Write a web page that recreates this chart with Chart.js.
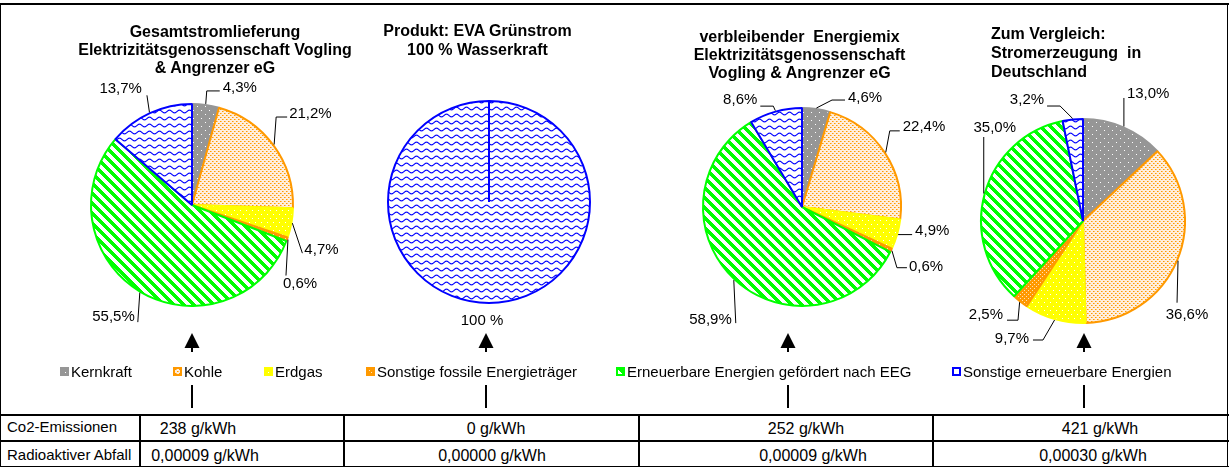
<!DOCTYPE html>
<html>
<head>
<meta charset="utf-8">
<script src="https://cdn.jsdelivr.net/npm/chart.js@4.4.1/dist/chart.umd.min.js"></script>
<style>
  html, body { margin: 0; padding: 0; background: #fff; }
  #page { position: relative; width: 1229px; height: 467px; overflow: hidden;
          font-family: "Liberation Sans", Arial, sans-serif; color: #000; }
  .abs { position: absolute; white-space: pre; }
  .title { font-weight: bold; font-size: 16px; }
  .leg { font-size: 15px; line-height: 15px; }
  .cell { font-size: 16px; line-height: 16px; text-align: center; width: 200px; }
  canvas.pie { position: absolute; }
  #lines { position: absolute; left: 0; top: 0; }
</style>
</head>
<body>
<div id="page">
  <svg id="lines" width="1229" height="467"></svg>
</div>
<script>
// --- data ---
var categories = [
  "Kernkraft",
  "Kohle",
  "Erdgas",
  "Sonstige fossile Energieträger",
  "Erneuerbare Energien gefördert nach EEG",
  "Sonstige erneuerbare Energien"
];
var gesamtMix = [4.3, 21.2, 4.7, 0.6, 55.5, 13.7];
var gruenstromMix = [0, 0, 0, 0, 0, 100];
var restMix = [4.6, 22.4, 4.9, 0.6, 58.9, 8.6];
var deutschlandMix = [13.0, 36.6, 9.7, 2.5, 35.0, 3.2];
var chartTitles = [
  ["Gesamtstromlieferung", "Elektrizitätsgenossenschaft Vogling", "& Angrenzer eG"],
  ["Produkt: EVA Grünstrom", "100 % Wasserkraft"],
  ["verbleibender  Energiemix", "Elektrizitätsgenossenschaft", "Vogling & Angrenzer eG"],
  ["Zum Vergleich:", "Stromerzeugung  in", "Deutschland"]
];
var rowLabels = ["Co2-Emissionen", "Radioaktiver Abfall"];
var co2Values = [238, 0, 252, 421];
var abfallValues = [0.00009, 0.00000, 0.00009, 0.00030];

// --- styles / layout ---
var borderColors = ["#969696", "#ff9900", "#ffff00", "#ff9900", "#00ff00", "#0000ff"];
var fontFamily = '"Liberation Sans", Arial, sans-serif';
var page = document.getElementById("page");

function makeTile(w, h, paint) {
  var c = document.createElement("canvas");
  c.width = w;
  c.height = h;
  paint(c.getContext("2d"), w, h);
  return c;
}
function dot(g, x, y, col) {
  g.fillStyle = col;
  g.fillRect(x, y, 1, 1);
}

var tiles = [
  makeTile(8, 8, function (g) {
    g.fillStyle = "#969696"; g.fillRect(0, 0, 8, 8);
    dot(g, 1, 1, "#fff"); dot(g, 5, 5, "#fff");
  }),
  makeTile(4, 4, function (g) {
    g.fillStyle = "#ffeedd"; g.fillRect(0, 0, 4, 4);
    dot(g, 0, 0, "#ff9900"); dot(g, 2, 2, "#ff9900");
    dot(g, 1, 0, "#ffc266"); dot(g, 3, 2, "#ffc266");
  }),
  makeTile(6, 8, function (g) {
    g.fillStyle = "#ffff00"; g.fillRect(0, 0, 6, 8);
    dot(g, 1, 1, "#fff"); dot(g, 4, 5, "#fff");
  }),
  makeTile(4, 4, function (g) {
    g.fillStyle = "#ff9900"; g.fillRect(0, 0, 4, 4);
    dot(g, 1, 1, "#ffe2b8"); dot(g, 3, 3, "#ffe2b8");
  }),
  makeTile(10, 10, function (g) {
    var img = g.createImageData(10, 10);
    for (var y = 0; y < 10; y++) {
      for (var x = 0; x < 10; x++) {
        var d = ((x - y) % 10 + 10) % 10;
        var i = (y * 10 + x) * 4;
        var green = d < 5;
        img.data[i] = green ? 0 : 255;
        img.data[i + 1] = 255;
        img.data[i + 2] = green ? 0 : 255;
        img.data[i + 3] = 255;
      }
    }
    g.putImageData(img, 0, 0);
  }),
  makeTile(10, 7, function (g) {
    g.fillStyle = "#fff"; g.fillRect(0, 0, 10, 7);
    g.strokeStyle = "#0000ff"; g.lineWidth = 1.1;
    g.beginPath();
    for (var x = -1; x <= 11; x += 0.5) {
      var y = 3.5 + 1.4 * Math.sin(2 * Math.PI * x / 10);
      if (x === -1) g.moveTo(x, y); else g.lineTo(x, y);
    }
    g.stroke();
  })
];

// pie geometry and label placement (offsets from the slice's edge point)
var pieBoxes = [
  { cx: 192, cy: 205, r: 101 },
  { cx: 489, cy: 202, r: 101 },
  { cx: 802, cy: 207, r: 99 },
  { cx: 1083, cy: 221, r: 102 }
];
var labelPlacements = [
  [
    { pts: [[1, -13], [14, -13]], t: [17, -16, "left"] },
    { pts: [[2, -27.5], [13, -27.5]], t: [15, -30.5, "left"] },
    { pts: [[10, 30]], t: [12, 27, "left"] },
    { pts: [[-2, 36]], t: [12, 44, "center"] },
    { pts: [[-2, 29.5]], t: [-5, 24.5, "right"] },
    { pts: [[-2.5, -17]], t: [-7.5, -23, "right"] }
  ],
  [null, null, null, null, null, { pts: [], t: [-7, 17, "center"] }],
  [
    { pts: [[15.6, -8], [28.6, -8]], t: [31.6, -10, "left"] },
    { pts: [[4, -21.5], [14, -21.5]], t: [17, -25.5, "left"] },
    { pts: [[14, 0]], t: [17, -4, "left"] },
    { pts: [[5, 17], [15, 17]], t: [17, 16, "left"] },
    { pts: [[2, 43]], t: [-2, 40, "right"] },
    { pts: [[-2, -4.5], [-15, -4.5]], t: [-18, -10.6, "right"] }
  ],
  [
    { pts: [[0, -28.5]], t: [3, -32.5, "left"] },
    { pts: [[-1, 42]], t: [9, 54, "center"] },
    { pts: [[-11.6, 20], [-21.6, 20]], t: [-25.6, 19, "right"] },
    { pts: [[-1.6, 18], [-12.6, 18]], t: [-16.6, 13, "right"] },
    { pts: [[0, -56.5]], t: [11, -65.5, "center"] },
    { pts: [[-12.6, -12.5], [-25.6, -12.5]], t: [-28.6, -18.5, "right"] }
  ]
];

function pctComma(v) { return v.toFixed(1).replace(".", ",") + "%"; }
function pctWhole(v) { return v.toFixed(0) + " %"; }

var leaderLabels = {
  id: "leaderLabels",
  afterDatasetsDraw: function (chart, args, opts) {
    var ctx = chart.ctx;
    var meta = chart.getDatasetMeta(0);
    var values = chart.data.datasets[0].data;
    ctx.save();
    ctx.font = "15px " + fontFamily;
    ctx.fillStyle = "#000";
    ctx.strokeStyle = "#000";
    ctx.lineWidth = 1;
    ctx.textBaseline = "middle";
    meta.data.forEach(function (arc, i) {
      var place = opts.placements[i];
      if (!values[i] || !place) return;
      var p = arc.getProps(["x", "y", "startAngle", "endAngle", "outerRadius"], true);
      var mid = (p.startAngle + p.endAngle) / 2;
      var R = p.outerRadius + 1;
      var ax = p.x + R * Math.cos(mid);
      var ay = p.y + R * Math.sin(mid);
      if (place.pts.length) {
        ctx.beginPath();
        ctx.moveTo(ax, ay);
        place.pts.forEach(function (q) { ctx.lineTo(ax + q[0], ay + q[1]); });
        ctx.stroke();
      }
      ctx.textAlign = place.t[2];
      ctx.fillText(opts.format(values[i]), ax + place.t[0], ay + place.t[1]);
    });
    ctx.restore();
  }
};

var pieSeries = [gesamtMix, gruenstromMix, restMix, deutschlandMix];
var pieFormats = [pctComma, pctWhole, pctComma, pctComma];
var CANVAS = 320;

pieSeries.forEach(function (values, k) {
  var box = pieBoxes[k];
  var cv = document.createElement("canvas");
  cv.className = "pie";
  cv.width = CANVAS;
  cv.height = CANVAS;
  cv.style.left = (box.cx - CANVAS / 2) + "px";
  cv.style.top = (box.cy - CANVAS / 2) + "px";
  page.appendChild(cv);
  var ctx = cv.getContext("2d");
  var patterns = tiles.map(function (t) { return ctx.createPattern(t, "repeat"); });
  new Chart(ctx, {
    type: "pie",
    data: {
      labels: categories,
      datasets: [{
        data: values,
        backgroundColor: patterns,
        borderColor: borderColors,
        borderWidth: function (c) { return c.raw > 0 ? 2 : 0; }
      }]
    },
    options: {
      responsive: false,
      animation: false,
      devicePixelRatio: 1,
      radius: box.r,
      events: [],
      layout: { padding: 0 },
      plugins: {
        legend: { display: false },
        tooltip: { enabled: false },
        leaderLabels: { placements: labelPlacements[k], format: pieFormats[k] }
      }
    },
    plugins: [leaderLabels]
  });
});

// titles
var titleBoxes = [
  { left: 65, top: 22.5, width: 300, lh: 18, align: "center" },
  { left: 327.5, top: 21, width: 300, lh: 19, align: "center" },
  { left: 649.5, top: 27.5, width: 300, lh: 18, align: "center" },
  { left: 991, top: 24, width: 230, lh: 19, align: "left" }
];
chartTitles.forEach(function (lines, k) {
  var b = titleBoxes[k];
  var d = document.createElement("div");
  d.className = "abs title";
  d.style.left = b.left + "px";
  d.style.top = b.top + "px";
  d.style.width = b.width + "px";
  d.style.lineHeight = b.lh + "px";
  d.style.textAlign = b.align;
  d.textContent = lines.join("\n");
  page.appendChild(d);
});

// legend
var legendX = [60, 173, 264, 366, 616, 952];
categories.forEach(function (name, i) {
  var sw = document.createElement("canvas");
  sw.width = 9; sw.height = 9;
  sw.style.position = "absolute";
  sw.style.left = legendX[i] + "px";
  sw.style.top = "367px";
  var g = sw.getContext("2d");
  g.fillStyle = i === 5 ? "#fff" : g.createPattern(tiles[i], "repeat");
  g.fillRect(0, 0, 9, 9);
  g.strokeStyle = borderColors[i];
  g.lineWidth = 2;
  g.strokeRect(1, 1, 7, 7);
  page.appendChild(sw);
  var t = document.createElement("div");
  t.className = "abs leg";
  t.style.left = (legendX[i] + 11) + "px";
  t.style.top = "364.3px";
  t.textContent = name;
  page.appendChild(t);
});

// table
var rowLabelTops = [419, 447.3];
rowLabels.forEach(function (name, r) {
  var d = document.createElement("div");
  d.className = "abs leg";
  d.style.left = "7px";
  d.style.top = rowLabelTops[r] + "px";
  d.textContent = name;
  page.appendChild(d);
});
var cellCenters = [[198, 496, 806, 1100], [205, 492, 813, 1093]];
var cellTops = [421, 447.5];
var rowTexts = [
  co2Values.map(function (v) { return v + " g/kWh"; }),
  abfallValues.map(function (v) { return v.toFixed(5).replace(".", ",") + " g/kWh"; })
];
rowTexts.forEach(function (texts, r) {
  texts.forEach(function (txt, c) {
    var d = document.createElement("div");
    d.className = "abs cell";
    d.style.left = (cellCenters[r][c] - 100) + "px";
    d.style.top = cellTops[r] + "px";
    d.textContent = txt;
    page.appendChild(d);
  });
});

// frame, table rules, arrows
var svg = document.getElementById("lines");
function rect(x, y, w, h) {
  var e = document.createElementNS("http://www.w3.org/2000/svg", "rect");
  e.setAttribute("x", x); e.setAttribute("y", y);
  e.setAttribute("width", w); e.setAttribute("height", h);
  e.setAttribute("fill", "#000");
  svg.appendChild(e);
}
rect(0, 3, 1229, 2);
rect(0, 3, 1, 464);
rect(1227, 3, 1, 464);
rect(0, 414, 1229, 2);
rect(0, 440, 1229, 2);
rect(0, 466, 1229, 1);
[139, 343, 638, 932].forEach(function (x) { rect(x, 414, 2, 53); });
var arrowX = [192, 486, 788, 1084];
arrowX.forEach(function (x) {
  var p = document.createElementNS("http://www.w3.org/2000/svg", "polygon");
  p.setAttribute("points", x + ",333 " + (x - 7.5) + ",348 " + (x + 7.5) + ",348");
  p.setAttribute("fill", "#000");
  svg.appendChild(p);
  rect(x - 1, 347, 2, 5);
  rect(x - 1, 385, 2, 23);
});
</script>
</body>
</html>
